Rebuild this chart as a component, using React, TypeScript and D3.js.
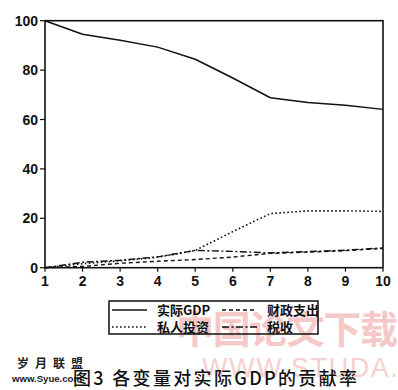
import React from "react";
import * as d3 from "d3";

const periods = [1, 2, 3, 4, 5, 6, 7, 8, 9, 10];
const gdp = [100, 94.5, 92.1, 89.3, 84.4, 76.8, 68.8, 66.9, 65.8, 64.1];
const privateInv = [0, 1.6, 2.8, 4.2, 7.0, 14.6, 21.9, 23.0, 23.0, 22.8];
const fiscal = [0, 0.5, 1.8, 2.6, 3.3, 4.3, 5.8, 6.3, 6.9, 7.8];
const tax = [0, 2.2, 3.0, 4.4, 7.0, 6.6, 6.0, 6.5, 7.1, 8.0];
const yTicks = [0, 20, 40, 60, 80, 100];
const seriesNames = ["实际GDP", "财政支出", "私人投资", "税收"];
const caption = "图3 各变量对实际GDP的贡献率";

const W = 398;
const H = 390;
const left = 45;
const right = 383;
const top = 20.7;
const bottom = 267.7;

export default function App() {
  const x = d3.scaleLinear().domain([1, 10]).range([left, right]);
  const y = d3.scaleLinear().domain([0, 100]).range([bottom, top]);
  const line = d3
    .line<number>()
    .x((_, i) => x(periods[i]))
    .y((d) => y(d));

  const series = [
    { name: seriesNames[0], data: gdp, dash: "none", w: 1.5 },
    { name: seriesNames[1], data: fiscal, dash: "4,3", w: 1.4 },
    { name: seriesNames[2], data: privateInv, dash: "1.6,2.4", w: 1.6 },
    { name: seriesNames[3], data: tax, dash: "7,2.5,2,2.5", w: 1.4 },
  ];

  const tickFont = { fontFamily: "'Liberation Sans', Arial, sans-serif", fontWeight: 700, fontSize: 14 };
  const cjk = "'Noto Sans CJK SC', 'Noto Sans', sans-serif";

  const legendItems = [
    { s: series[0], lx: 112, ty: 310 },
    { s: series[1], lx: 222, ty: 310 },
    { s: series[2], lx: 112, ty: 327 },
    { s: series[3], lx: 222, ty: 327 },
  ];

  return (
    <svg width={W} height={H} style={{ position: "absolute", left: 0, top: 0, background: "#fff" }}>
      {/* watermark */}
      <text x={176} y={343} fontFamily={cjk} fontWeight={700} fontSize={38} fill="#f6c9c9" textLength={222} lengthAdjust="spacing">
        中国论文下载
      </text>
      <text x={202} y={377} fontFamily="'Liberation Sans', Arial, sans-serif" fontSize={27} fill="#f6d0d0" textLength={196} lengthAdjust="spacing">
        WWW.STUDA.
      </text>
      <text x={17} y={368} fontFamily={cjk} fontWeight={700} fontSize={12} fill="#222" textLength={66} lengthAdjust="spacing">
        岁月联盟
      </text>
      <text x={12} y={382} fontFamily="'Liberation Sans', Arial, sans-serif" fontWeight={700} fontSize={9} fill="#222" textLength={70} lengthAdjust="spacingAndGlyphs">
        www.Syue.com
      </text>

      {/* frame */}
      <rect x={left} y={top} width={right - left} height={bottom - top} fill="none" stroke="#111" strokeWidth={1.6} />

      {/* y ticks */}
      {yTicks.map((t) => (
        <g key={"y" + t}>
          <line x1={left - 5} x2={left} y1={y(t)} y2={y(t)} stroke="#111" strokeWidth={1.2} />
          <text x={left - 7} y={y(t)} dy="0.36em" textAnchor="end" {...tickFont} fill="#111">
            {t}
          </text>
        </g>
      ))}
      {/* x ticks */}
      {periods.map((p) => (
        <g key={"x" + p}>
          <line x1={x(p)} x2={x(p)} y1={bottom} y2={bottom + 4} stroke="#111" strokeWidth={1.2} />
          <text x={x(p)} y={bottom + 18} textAnchor="middle" {...tickFont} fill="#111">
            {p}
          </text>
        </g>
      ))}

      {/* series */}
      {series.map((s) => (
        <path
          key={s.name}
          d={line(s.data) || ""}
          fill="none"
          stroke="#111"
          strokeWidth={s.w}
          strokeDasharray={s.dash}
          strokeLinejoin="round"
        />
      ))}

      {/* legend */}
      <rect x={109} y={301} width={209} height={33} fill="none" stroke="#111" strokeWidth={1.5} />
      {legendItems.map(({ s, lx, ty }) => (
        <g key={"lg" + s.name}>
          <line x1={lx} x2={lx + 35} y1={ty} y2={ty} stroke="#111" strokeWidth={s.w} strokeDasharray={s.dash} />
          <text x={lx + 45} y={ty} dy="0.36em" fontFamily={cjk} fontWeight={700} fontSize={13} fill="#111">
            {s.name}
          </text>
        </g>
      ))}

      {/* caption */}
      <text x={73} y={385} fontFamily={cjk} fontWeight={500} fontSize={18} fill="#111" textLength={284} lengthAdjust="spacing">
        {caption}
      </text>
    </svg>
  );
}
